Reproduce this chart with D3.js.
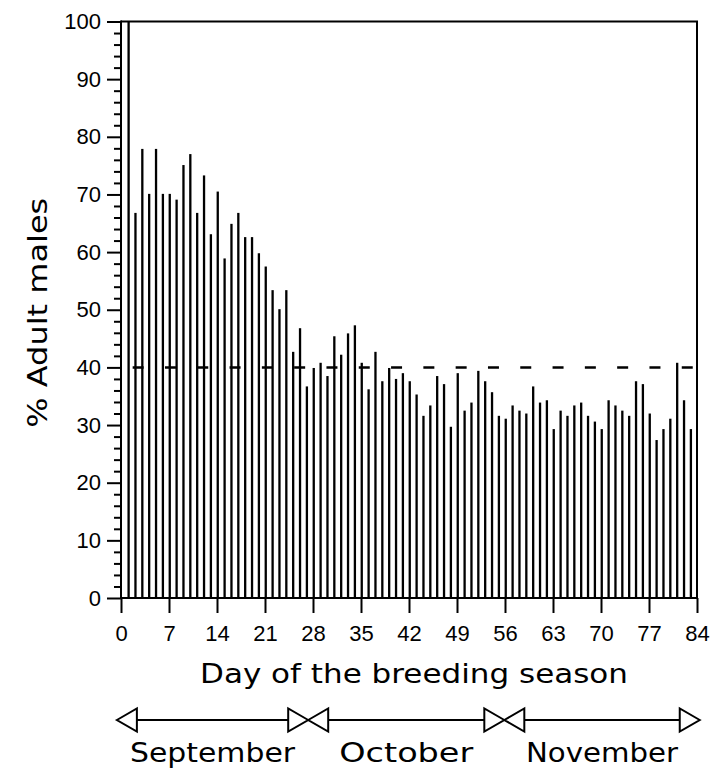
<!DOCTYPE html>
<html>
<head>
<meta charset="utf-8">
<script src="https://cdn.jsdelivr.net/npm/d3@7"></script>
<style>
  html, body { margin: 0; padding: 0; background: #fff; }
  svg { display: block; }
</style>
</head>
<body>
<svg id="chart" width="714" height="772"></svg>
<script>
// Daily share of adult males among birds recorded, days 1-83 of the breeding season
const days = d3.range(1, 84);
const pctAdultMales = [
  100, 66.8, 77.9, 70.1, 77.9, 70.1, 70.1, 69.1, 75.1, 77.0,
  66.8, 73.3, 63.1, 70.5, 58.9, 64.9, 66.8, 62.6, 62.6, 59.8,
  57.5, 53.4, 50.1, 53.4, 42.7, 46.8, 36.7, 39.9, 40.8, 38.5,
  45.4, 42.2, 45.9, 47.3, 40.8, 36.2, 42.7, 37.6, 39.9, 38.0,
  39.0, 37.6, 35.3, 31.6, 33.4, 38.5, 37.1, 29.7, 39.0, 32.5,
  33.9, 39.4, 37.6, 35.7, 31.6, 31.1, 33.4, 32.5, 32.0, 36.7,
  33.9, 34.3, 29.3, 32.5, 31.6, 33.4, 33.9, 31.6, 30.6, 29.3,
  34.3, 33.4, 32.5, 31.6, 37.6, 37.1, 32.0, 27.4, 29.3, 31.1,
  40.8, 34.3, 29.3
];
const referenceLevel = 40;

const xTicks = d3.range(0, 85, 7);
const yMajorTicks = d3.range(0, 101, 10);
const yMinorTicks = d3.range(0, 101, 2).filter(v => v % 10 !== 0);

// Month spans along the day axis
const months = ["September", "October", "November"];
const monthStart = [-0.6, 27.3, 55.9];
const monthEnd = [27.3, 55.9, 84.4];

const svg = d3.select("#chart");
const x = d3.scaleLinear().domain([0, 84]).range([121, 697]);
const y = d3.scaleLinear().domain([0, 100]).range([598, 21.5]);

const tickFont = "'Liberation Sans', Arial, sans-serif";
const titleFont = "'DejaVu Sans', 'Noto Sans', sans-serif";
// Rendered widths of the wide display lettering
const titleWidth = { x: 428, y: 230, September: 165, October: 134, November: 152 };

// Bars drawn as thin vertical strokes
svg.append("g")
  .selectAll("rect")
  .data(days)
  .join("rect")
  .attr("x", (d) => x(d) - 0.4)
  .attr("width", 2.3)
  .attr("y", (d, i) => y(pctAdultMales[i]))
  .attr("height", (d, i) => y(0) - y(pctAdultMales[i]))
  .attr("fill", "#000");

// Dashed reference line
const dash = 11, gap = 21.3;
svg.append("line")
  .attr("x1", x(1)).attr("x2", x(84))
  .attr("y1", y(referenceLevel)).attr("y2", y(referenceLevel))
  .attr("stroke", "#000")
  .attr("stroke-width", 2.5)
  .attr("stroke-dasharray", `${dash},${gap}`)
  .attr("stroke-dashoffset", dash + gap - 4.8);

// Frame: top and right edges
svg.append("path")
  .attr("d", `M${x(0)},${y(100)}H${x(84)}V${y(0)}`)
  .attr("fill", "none")
  .attr("stroke", "#000")
  .attr("stroke-width", 2);

// Y axis: major ticks with labels, minor ticks every 2 %
const yMajor = svg.append("g")
  .attr("transform", `translate(${x(0)},0)`)
  .call(d3.axisLeft(y).tickValues(yMajorTicks).tickSize(14).tickPadding(6));
const yMinor = svg.append("g")
  .attr("transform", `translate(${x(0)},0)`)
  .call(d3.axisLeft(y).tickValues(yMinorTicks).tickSize(7).tickFormat(""));

// X axis
const xAxis = svg.append("g")
  .attr("transform", `translate(0,${y(0)})`)
  .call(d3.axisBottom(x).tickValues(xTicks).tickSize(15).tickPadding(12));

[yMajor, yMinor, xAxis].forEach((g) => {
  g.select(".domain").remove();
  g.selectAll(".tick line").attr("stroke", "#000").attr("stroke-width", 2);
  g.selectAll(".tick text")
    .attr("fill", "#000")
    .style("font-family", tickFont)
    .style("font-size", "22px");
});

// Axis lines
svg.append("line")
  .attr("x1", x(0)).attr("x2", x(0))
  .attr("y1", y(100) - 1).attr("y2", y(0) + 1)
  .attr("stroke", "#000").attr("stroke-width", 2);
svg.append("line")
  .attr("x1", x(0) - 1).attr("x2", x(84) + 1)
  .attr("y1", y(0)).attr("y2", y(0))
  .attr("stroke", "#000").attr("stroke-width", 2);

// Axis titles
svg.append("text")
  .attr("x", (x(0) + x(84)) / 2 + 5)
  .attr("y", 683)
  .attr("text-anchor", "middle")
  .attr("textLength", titleWidth.x)
  .attr("lengthAdjust", "spacingAndGlyphs")
  .style("font-family", titleFont)
  .style("font-size", "26px")
  .text("Day of the breeding season");

svg.append("text")
  .attr("transform", `translate(47,${(y(0) + y(100)) / 2 + 3}) rotate(-90)`)
  .attr("text-anchor", "middle")
  .attr("textLength", titleWidth.y)
  .attr("lengthAdjust", "spacingAndGlyphs")
  .style("font-family", titleFont)
  .style("font-size", "26px")
  .text("% Adult males");

// Month spans with open arrowheads
const arrowY = 720, triLen = 20, triHalf = 11.5;
const monthG = svg.append("g");
months.forEach((m, i) => {
  const a = x(monthStart[i]);
  const b = x(monthEnd[i]);
  monthG.append("line")
    .attr("x1", a + triLen).attr("x2", b - triLen)
    .attr("y1", arrowY).attr("y2", arrowY)
    .attr("stroke", "#000").attr("stroke-width", 2);
  monthG.append("path")
    .attr("d", `M${a},${arrowY}L${a + triLen},${arrowY - triHalf}V${arrowY + triHalf}Z`)
    .attr("fill", "#fff").attr("stroke", "#000").attr("stroke-width", 2)
    .attr("stroke-linejoin", "miter");
  monthG.append("path")
    .attr("d", `M${b},${arrowY}L${b - triLen},${arrowY - triHalf}V${arrowY + triHalf}Z`)
    .attr("fill", "#fff").attr("stroke", "#000").attr("stroke-width", 2)
    .attr("stroke-linejoin", "miter");
  monthG.append("text")
    .attr("x", (a + b) / 2)
    .attr("y", 762)
    .attr("text-anchor", "middle")
    .attr("textLength", titleWidth[m])
    .attr("lengthAdjust", "spacingAndGlyphs")
    .style("font-family", titleFont)
    .style("font-size", "26px")
    .text(m);
});
</script>
</body>
</html>
